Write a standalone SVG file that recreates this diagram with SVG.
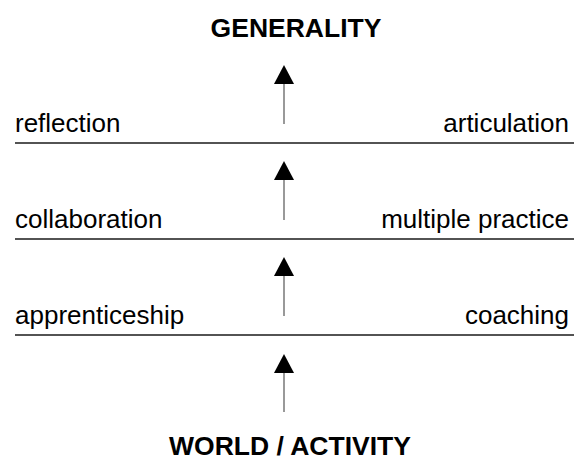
<svg xmlns="http://www.w3.org/2000/svg" width="574" height="461" viewBox="0 0 574 461">
  <defs>
    <style>
      .lbl { font-family: "Liberation Sans", Arial, sans-serif; font-size: 26px; fill: #000; }
      .ttl { font-family: "Liberation Sans", Arial, sans-serif; font-size: 26.5px; font-weight: bold; fill: #000; text-anchor: middle; }
      .rule { stroke: #1a1a1a; stroke-width: 1.5; fill: none; }
      .shaft { stroke: #555; stroke-width: 1.2; fill: none; }
      .head { fill: #000; }
    </style>
  </defs>
  <rect width="574" height="461" fill="#fff"/>

  <g id="top-label"><text class="ttl" x="296" y="37">GENERALITY</text></g>
  <g id="bottom-label"><text class="ttl" x="290" y="455">WORLD / ACTIVITY</text></g>

  <g id="level-3">
    <text class="lbl" x="15" y="132">reflection</text>
    <text class="lbl" x="569" y="132" text-anchor="end">articulation</text>
  </g>
  <g id="level-2">
    <text class="lbl" x="15" y="228">collaboration</text>
    <text class="lbl" x="569" y="228" text-anchor="end">multiple practice</text>
  </g>
  <g id="level-1">
    <text class="lbl" x="15" y="324">apprenticeship</text>
    <text class="lbl" x="569" y="324" text-anchor="end">coaching</text>
  </g>

  <g id="connectors">
    <line class="rule" x1="15" y1="143" x2="574" y2="143"/>
    <line class="rule" x1="15" y1="239" x2="574" y2="239"/>
    <line class="rule" x1="15" y1="335" x2="574" y2="335"/>

    <line class="shaft" x1="284" y1="84" x2="284" y2="124"/>
    <polygon class="head" points="284,65 274,84 294,84"/>
    <line class="shaft" x1="284" y1="180" x2="284" y2="220"/>
    <polygon class="head" points="284,161 274,180 294,180"/>
    <line class="shaft" x1="284" y1="276" x2="284" y2="316"/>
    <polygon class="head" points="284,257 274,276 294,276"/>
    <line class="shaft" x1="284" y1="373" x2="284" y2="412"/>
    <polygon class="head" points="284,354 274,373 294,373"/>
  </g>
</svg>
